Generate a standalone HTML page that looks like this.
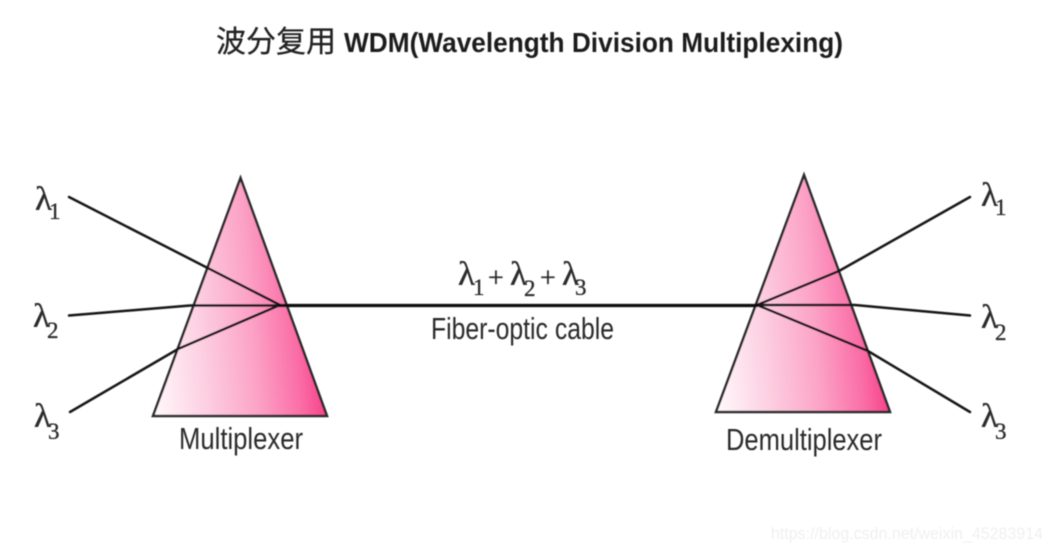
<!DOCTYPE html>
<html>
<head>
<meta charset="utf-8">
<style>
html,body{margin:0;padding:0;background:#fff;width:1051px;height:551px;overflow:hidden}
svg{display:block}
.t{font-family:"Liberation Sans","Noto Sans CJK SC",sans-serif;fill:#222}
.l{font-family:"Liberation Serif","DejaVu Serif",serif;fill:#2a2a2a;stroke:#2a2a2a;stroke-width:.35}
</style>
</head>
<body>
<svg width="1051" height="551" viewBox="0 0 1051 551" xmlns="http://www.w3.org/2000/svg">
<defs>
<linearGradient id="g1" gradientUnits="userSpaceOnUse" x1="155" y1="410" x2="327" y2="395">
<stop offset="0" stop-color="#fff8fb"/>
<stop offset="0.3" stop-color="#fdcfe1"/>
<stop offset="0.6" stop-color="#fca2c6"/>
<stop offset="0.85" stop-color="#fa6ca5"/>
<stop offset="1" stop-color="#f73f88"/>
</linearGradient>
<linearGradient id="g2" gradientUnits="userSpaceOnUse" x1="718" y1="406" x2="890" y2="391">
<stop offset="0" stop-color="#fff8fb"/>
<stop offset="0.3" stop-color="#fdcfe1"/>
<stop offset="0.6" stop-color="#fca2c6"/>
<stop offset="0.85" stop-color="#fa6ca5"/>
<stop offset="1" stop-color="#f73f88"/>
</linearGradient>
<filter id="b" x="-5%" y="-5%" width="110%" height="110%"><feGaussianBlur stdDeviation="0.5"/></filter>
</defs>
<g filter="url(#b)">
<text class="t" x="216" y="52" font-size="30" style="fill:#222;stroke:#222;stroke-width:.25">波分复用</text>
<text class="t" x="344" y="52" font-size="28" font-weight="bold" textLength="499" lengthAdjust="spacingAndGlyphs" style="fill:#1c1c1c">WDM(Wavelength Division Multiplexing)</text>

<polygon points="240.500,178 153,416 327,416" fill="url(#g1)" stroke="#2a2a2a" stroke-width="2.5" stroke-linejoin="miter"/>
<polygon points="804,175 716,412 890,412" fill="url(#g2)" stroke="#2a2a2a" stroke-width="2.5" stroke-linejoin="miter"/>

<g fill="none" stroke="#161616" stroke-width="2.5" stroke-linecap="round">
<path d="M69 197 L280 305"/>
<path d="M69 315.500 L190 305.500 L280 305.500"/>
<path d="M70 412 L178 349 L280 305"/>
<path d="M757 305 L839 271 L970 197"/>
<path d="M757 305 L855 305 L970 315.500"/>
<path d="M757 305 L868 351 L970 412"/>
</g>
<line x1="278" y1="305.500" x2="758" y2="305.500" stroke="#111" stroke-width="3.2"/>

<text class="l" x="35" y="210" font-size="34" textLength="17" lengthAdjust="spacingAndGlyphs">λ</text><text class="l" x="49" y="219" font-size="23">1</text>
<text class="l" x="33" y="327" font-size="34" textLength="17" lengthAdjust="spacingAndGlyphs">λ</text><text class="l" x="47" y="338" font-size="23">2</text>
<text class="l" x="34" y="427" font-size="34" textLength="17" lengthAdjust="spacingAndGlyphs">λ</text><text class="l" x="48" y="439" font-size="23">3</text>

<text class="l" x="981" y="206" font-size="34" textLength="17" lengthAdjust="spacingAndGlyphs">λ</text><text class="l" x="995" y="215" font-size="23">1</text>
<text class="l" x="981" y="328" font-size="34" textLength="17" lengthAdjust="spacingAndGlyphs">λ</text><text class="l" x="995" y="340" font-size="23">2</text>
<text class="l" x="981" y="427" font-size="34" textLength="17" lengthAdjust="spacingAndGlyphs">λ</text><text class="l" x="995" y="439" font-size="23">3</text>

<text class="l" x="458" y="285" font-size="34" textLength="17" lengthAdjust="spacingAndGlyphs">λ</text><text class="l" x="473" y="295" font-size="23">1</text>
<text class="l" x="488" y="287" font-size="28">+</text>
<text class="l" x="510" y="285" font-size="34" textLength="17" lengthAdjust="spacingAndGlyphs">λ</text><text class="l" x="524" y="296" font-size="23">2</text>
<text class="l" x="540" y="287" font-size="28">+</text>
<text class="l" x="562" y="285" font-size="34" textLength="17" lengthAdjust="spacingAndGlyphs">λ</text><text class="l" x="575" y="295" font-size="23">3</text>

<text class="t" x="431" y="339" font-size="31" textLength="183" lengthAdjust="spacingAndGlyphs" style="fill:#2c2c2c">Fiber-optic cable</text>
<text class="t" x="179" y="449" font-size="31" textLength="124" lengthAdjust="spacingAndGlyphs" style="fill:#2c2c2c">Multiplexer</text>
<text class="t" x="726" y="450" font-size="31" textLength="156" lengthAdjust="spacingAndGlyphs" style="fill:#2c2c2c">Demultiplexer</text>

<text x="771" y="539" font-family="Liberation Sans, sans-serif" font-size="16.5" fill="#f0f0f0" textLength="272" lengthAdjust="spacingAndGlyphs">https://blog.csdn.net/weixin_45283914</text>
</g>
</svg>
</body>
</html>
